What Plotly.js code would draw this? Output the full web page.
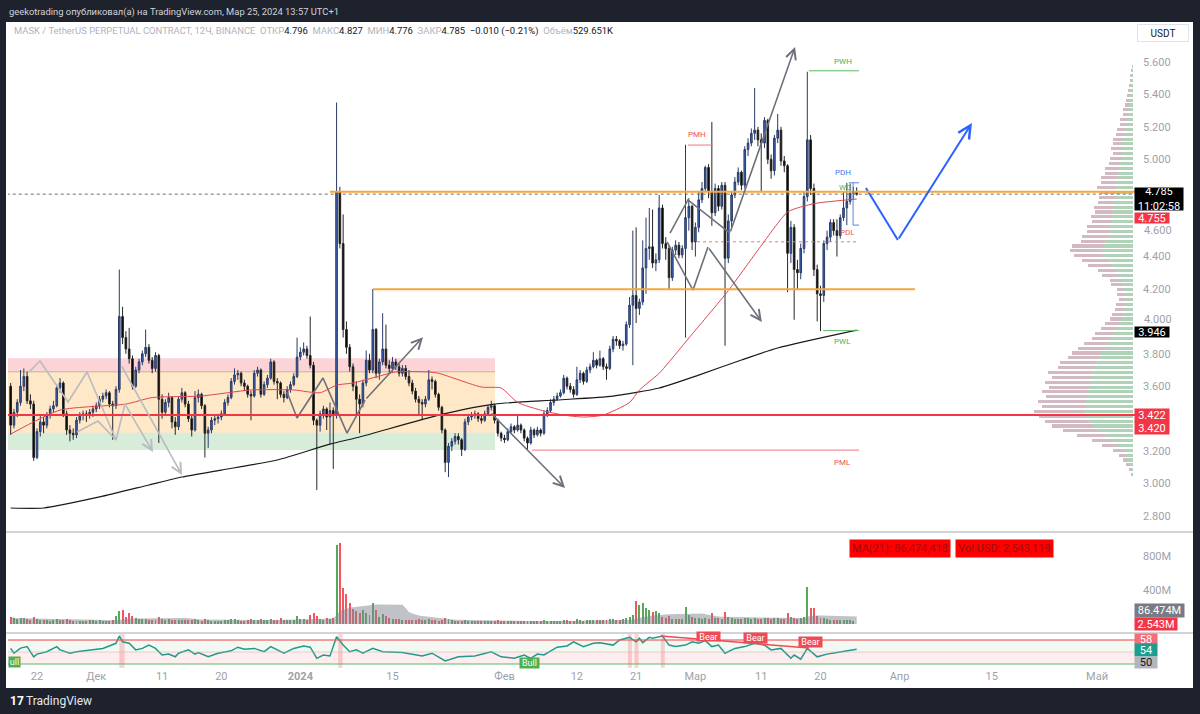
<!DOCTYPE html>
<html><head><meta charset="utf-8">
<script src="https://cdn.plot.ly/plotly-3.0.1.min.js"></script>
<style>html,body{margin:0;padding:0;background:#1e222d;}#chart{width:1200px;height:714px;}</style>
</head><body><div id="chart"></div>
<script>
// ---------- DATA (12h candles, MASK/USDT perp, from 2023-11-18 00:00) ----------
const firstOpen = 3.60;
const closes = [
3.36,3.44,3.50,3.60,3.66,3.51,3.49,3.16,3.32,3.38,
3.36,3.42,3.46,3.48,3.59,3.62,3.43,3.33,3.31,3.30,
3.39,3.42,3.43,3.42,3.44,3.46,3.48,3.52,3.54,3.56,
3.49,3.48,3.58,4.03,3.90,3.83,3.77,3.60,3.70,3.75,
3.80,3.84,3.76,3.71,3.79,3.52,3.44,3.50,3.53,3.38,
3.35,3.52,3.56,3.49,3.40,3.33,3.53,3.55,3.48,3.31,
3.33,3.39,3.40,3.41,3.43,3.50,3.53,3.63,3.67,3.68,
3.62,3.60,3.55,3.54,3.68,3.70,3.55,3.61,3.65,3.75,
3.63,3.62,3.55,3.53,3.58,3.61,3.66,3.78,3.81,3.83,
3.79,3.73,3.39,3.36,3.43,3.46,3.41,3.45,3.42,4.80,
4.48,3.95,3.84,3.72,3.60,3.52,3.49,3.62,3.76,3.70,
3.95,3.68,3.75,3.83,3.73,3.71,3.75,3.72,3.68,3.71,
3.66,3.62,3.57,3.52,3.50,3.49,3.52,3.64,3.63,3.55,
3.47,3.33,3.13,3.23,3.26,3.29,3.27,3.21,3.38,3.41,
3.42,3.43,3.40,3.39,3.43,3.47,3.48,3.39,3.31,3.28,
3.27,3.32,3.35,3.33,3.36,3.33,3.28,3.25,3.33,3.30,
3.33,3.31,3.43,3.45,3.50,3.52,3.54,3.56,3.65,3.60,
3.58,3.55,3.64,3.68,3.63,3.70,3.72,3.76,3.73,3.77,
3.72,3.71,3.83,3.89,3.88,3.85,3.86,3.98,4.10,4.16,
4.08,4.12,4.33,4.45,4.46,4.36,4.38,4.70,4.48,4.45,
4.27,4.44,4.47,4.41,4.45,4.64,4.71,4.49,4.58,4.75,
4.82,4.95,4.80,4.67,4.82,4.71,4.84,4.39,4.62,4.78,
4.86,4.92,4.84,5.06,5.10,5.16,5.18,5.12,5.10,5.24,
5.00,4.93,5.13,5.18,4.99,4.96,4.42,4.58,4.32,4.30,
4.45,4.77,5.12,4.82,4.32,4.17,4.16,4.48,4.52,4.61,
4.56,4.53,4.64,4.70,4.74,4.79,4.796,4.785];
const highs = [
3.62,3.46,3.52,3.70,3.71,3.69,3.55,3.51,3.34,3.42,
3.41,3.44,3.48,3.51,3.61,3.65,3.63,3.45,3.36,3.34,
3.41,3.44,3.45,3.45,3.46,3.48,3.50,3.54,3.56,3.58,
3.57,3.51,3.60,4.32,4.09,3.94,3.96,3.79,3.72,3.77,
3.82,3.95,3.86,3.78,3.81,3.80,3.55,3.52,3.56,3.54,
3.41,3.54,3.59,3.57,3.51,3.42,3.57,3.58,3.56,3.49,
3.35,3.41,3.42,3.43,3.45,3.52,3.55,3.65,3.71,3.70,
3.69,3.64,3.61,3.57,3.70,3.72,3.71,3.63,3.67,3.77,
3.76,3.65,3.63,3.57,3.60,3.63,3.68,3.90,3.84,3.87,
3.85,4.03,3.75,3.40,3.45,3.48,3.47,3.50,3.47,5.35,
4.83,4.66,4.00,3.86,3.74,3.63,3.55,3.64,3.82,3.80,
4.20,3.96,3.77,4.05,3.98,3.76,3.78,3.77,3.74,3.73,
3.73,3.70,3.64,3.59,3.54,3.52,3.54,3.70,3.66,3.64,
3.56,3.48,3.34,3.25,3.28,3.31,3.31,3.28,3.40,3.43,
3.44,3.45,3.44,3.42,3.45,3.48,3.51,3.49,3.40,3.32,
3.30,3.34,3.37,3.36,3.42,3.37,3.34,3.29,3.35,3.34,
3.35,3.34,3.45,3.47,3.52,3.54,3.56,3.58,3.67,3.66,
3.62,3.60,3.72,3.70,3.69,3.72,3.74,3.81,3.77,3.82,
3.78,3.74,3.85,3.91,3.91,3.89,3.88,4.00,4.15,4.56,
4.58,4.14,4.50,4.64,4.70,4.69,4.42,4.78,4.72,4.52,
4.47,4.46,4.50,4.49,4.47,5.09,4.76,4.72,4.61,4.80,
4.86,4.96,4.97,5.23,4.85,4.84,4.86,4.86,4.66,4.80,
4.89,4.95,4.93,5.08,5.13,5.19,5.44,5.20,5.16,5.26,
5.25,5.03,5.15,5.28,5.20,5.02,4.97,4.62,4.60,4.38,
4.48,4.80,5.54,5.15,4.85,4.35,4.22,4.50,4.56,4.63,
4.63,4.63,4.66,4.80,4.855,4.85,4.83,4.827];
const lows = [
3.30,3.34,3.41,3.48,3.57,3.49,3.46,3.14,3.15,3.29,
3.31,3.34,3.40,3.44,3.47,3.56,3.41,3.30,3.26,3.27,
3.28,3.37,3.39,3.38,3.40,3.41,3.44,3.46,3.50,3.52,
3.47,3.27,3.46,3.56,3.86,3.80,3.74,3.58,3.59,3.68,
3.73,3.78,3.74,3.68,3.69,3.25,3.40,3.42,3.47,3.34,
3.30,3.33,3.50,3.47,3.38,3.29,3.32,3.50,3.46,3.16,
3.22,3.31,3.36,3.37,3.39,3.42,3.48,3.52,3.61,3.64,
3.60,3.57,3.53,3.39,3.53,3.66,3.53,3.54,3.59,3.64,
3.61,3.52,3.53,3.50,3.52,3.56,3.60,3.65,3.76,3.79,
3.77,3.71,3.36,2.96,3.32,3.40,3.33,3.24,3.09,3.40,
4.45,3.90,3.80,3.69,3.57,3.42,3.31,3.47,3.60,3.68,
3.68,3.65,3.64,3.73,3.71,3.68,3.69,3.70,3.66,3.66,
3.64,3.60,3.55,3.50,3.42,3.39,3.47,3.51,3.58,3.53,
3.45,3.31,3.07,3.04,3.20,3.24,3.24,3.17,3.20,3.36,
3.39,3.40,3.38,3.37,3.38,3.42,3.45,3.37,3.29,3.26,
3.25,3.26,3.31,3.31,3.32,3.31,3.26,3.21,3.24,3.28,
3.29,3.29,3.30,3.41,3.44,3.48,3.51,3.53,3.55,3.58,
3.56,3.53,3.54,3.62,3.61,3.62,3.68,3.71,3.71,3.72,
3.70,3.64,3.70,3.81,3.85,3.83,3.82,3.85,3.96,3.73,
3.99,4.04,4.10,4.17,4.38,4.33,4.31,4.36,4.45,4.38,
4.20,4.25,4.41,4.39,4.39,3.90,4.56,4.44,4.40,4.55,
4.73,4.80,4.76,4.59,4.65,4.68,4.69,3.85,4.36,4.58,
4.76,4.84,4.81,4.82,5.02,5.08,5.12,5.08,4.80,5.07,
4.97,4.88,4.90,5.10,4.96,4.92,4.18,4.36,4.01,4.20,
4.26,4.42,4.74,4.78,4.28,4.00,3.94,4.12,4.44,4.49,
4.53,4.40,4.51,4.62,4.594,4.72,4.75,4.776];
// volume in USD millions
const volumeM = [
78,65,60,72,68,55,50,88,62,48, 42,45,40,52,58,50,46,55,44,38,
40,36,34,38,42,45,40,44,38,35, 40,48,92,158,168,85,125,95,70,58,
55,60,50,48,52,82,60,48,55,50, 45,52,48,44,46,50,55,42,40,58,
45,40,38,35,36,42,44,58,62,45, 40,38,42,55,50,44,60,48,45,62,
52,48,65,45,42,46,50,95,62,55, 48,108,135,92,60,52,70,62,75,929,
956,420,355,245,175,150,135,165,128,110, 245,165,85,118,90,70,62,58,55,50,
52,48,45,50,55,48,42,58,50,45, 40,52,65,55,42,38,36,40,48,40,
35,32,30,34,36,33,38,40,42,35, 34,30,32,30,36,33,35,40,38,32,
30,34,48,38,36,34,32,35,50,42, 38,36,55,45,40,48,44,52,42,48,
45,50,62,58,46,44,60,75,80,106, 274,224,251,185,165,145,153,133,82,70,
90,62,58,55,60,196,106,80,65,70, 62,75,60,126,70,65,60,145,80,65,
58,62,55,65,70,60,75,62,58,68, 72,60,66,70,58,62,126,80,75,62,
70,85,432,185,185,94,70,66,55,52, 48,50,46,52,48,44,40,2.543];
// moving averages (candle index -> price)
const redMaIdx = [0,15,35,43,58,73,86,94,99,104,111,117,127,130,143,149,154,161,168,174,180,188,191,197,203,206,218,227,236,240,245,257];
const redMaVal = [3.305,3.453,3.49,3.53,3.54,3.577,3.577,3.56,3.607,3.62,3.657,3.688,3.688,3.68,3.595,3.589,3.50,3.453,3.422,3.41,3.422,3.50,3.577,3.68,3.823,3.897,4.19,4.44,4.675,4.706,4.73,4.755];
const blackMaIdx = [0,10,27,42,52,64,81,97,106,130,147,166,183,197,209,222,233,257];
const blackMaVal = [2.849,2.849,2.917,2.991,3.04,3.083,3.145,3.243,3.287,3.422,3.49,3.515,3.539,3.589,3.669,3.762,3.836,3.946];
// oscillator pane
const rsiIdx = [0,1,3,5,7,8,11,14,15,18,20,25,28,32,33,34,36,38,40,42,44,46,48,50,51,54,56,57,60,63,67,69,71,74,77,79,83,86,89,91,93,95,97,99,101,103,105,107,110,113,119,125,128,132,136,141,146,149,153,156,158,160,162,166,169,171,174,177,179,183,185,188,190,191,192,194,195,198,200,202,205,207,209,211,213,215,217,220,223,226,229,231,234,237,238,240,242,245,248,251,255,257];
const rsiVal = [55.2,53.6,55.3,55.8,52.4,53.3,54.1,55.8,54.7,53.6,54.1,54.7,55.2,56.9,59.3,57.4,56.9,54.7,55.2,56.3,55.2,53.0,53.3,52.4,53.6,54.7,53.3,53.8,52.4,53.6,54.4,55.6,54.9,55.2,54.1,55.8,53.6,55.2,56.0,55.6,51.9,53.0,52.7,59.1,56.3,54.1,54.7,53.6,55.2,54.1,53.8,52.7,53.6,51.0,52.4,52.7,54.1,52.4,51.9,53.0,51.9,53.3,53.0,55.6,56.0,57.4,55.8,56.9,57.1,56.3,58.0,58.9,57.4,58.6,57.1,58.9,58.6,59.3,56.3,55.8,56.3,57.4,56.9,57.8,55.8,56.3,53.6,55.2,55.8,56.9,56.3,54.7,55.2,51.9,53.0,51.6,55.2,52.4,53.3,53.8,54.7,54.9];
// visible-range volume profile (rows of 0.03 from 3.055)
const vpStart = 3.055, vpStep = 0.03;
const vpTotal = [2,4,7,10,14,20,31,41,56,70,81,88,94,99,91,95,87,91,84,88,81,85,75,73,65,61,55,49,41,38,32,28,23,21,18,17,14,16,16,22,23,31,35,45,51,59,63,61,52,51,46,46,41,42,38,39,35,34,33,36,32,32,28,28,24,23,20,22,20,20,17,16,13,13,10,10,8,7,6,5,4,3,3,2,1];
const vpUp =    [1,2,3,5,7,10,15,21,27,35,40,44,48,50,46,47,45,46,43,44,41,42,38,37,34,31,28,25,22,19,17,14,12,10,10,8,8,8,9,11,12,15,18,22,26,29,32,30,27,25,24,23,21,21,20,19,18,17,17,18,17,16,15,14,13,11,11,11,11,10,9,8,7,6,5,5,4,4,3,3,2,2,2,1,1];
// hand drawings (candle index, price)
const lgA = {i:[5.57,8.91,17.42,23.19,32.0,34.73], p:[3.688,3.756,3.503,3.688,3.268,3.490], to:[43.24,3.194]};
const lgB = {i:[20.15,26.53,32.0], p:[3.318,3.385,3.268]};
const lgC = {i:[33.52], p:[3.731], to:[52.05,3.052]};
const dkJan = {i:[83.94,86.98,94.88,102.17,107.64], p:[3.564,3.404,3.651,3.311,3.515], to:[125.26,3.903]};
const dkFeb = {i:[145.6], p:[3.441], to:[168.39,2.972]};
const dkMar1 = {i:[200.3,205.74,218.5], p:[4.545,4.749,4.545], to:[238.27,5.693]};
const dkMar2 = {i:[199.4,207.26,211.82], p:[4.490,4.193,4.459], to:[228.2,3.996]};
const bluePath = {i:[259.8,269.5], p:[4.823,4.502], to:[292.0,5.224]};
// axis ticks (3.400 and 4.800 sit under price labels; 4.000 / 4.600 are placed beside their labels)
const tickDates = ['2023-11-22','2023-12-01','2023-12-11','2023-12-20','2024-01-01','2024-01-15','2024-02-01','2024-02-12','2024-02-21','2024-03-01','2024-03-11','2024-03-20','2024-04-01','2024-04-15','2024-05-01'];
const tickLabels = ['22','Дек','11','20','<b>2024</b>','15','Фев','12','21','Мар','11','20','Апр','15','Май'];
const priceTicks = [2.8,3.0,3.2,3.6,3.8,4.2,4.4,5.0,5.2,5.4,5.6];
const crowdedTicks = [4.0,4.6];

// ---------- helpers ----------
const startUTC = Date.UTC(2023,10,18,0,0,0), H12 = 12*3600*1000;
function T(idx){ return new Date(startUTC + idx*H12).toISOString().slice(0,19).replace('T',' '); }
const W=1200, HH=714, ML=8, MR=65, MT=22, MB=46, PW=W-ML-MR, PH=HH-MT-MB;
const px = x => (x-ML)/PW, py = y => (HH-MB-y)/PH;

const dates = closes.map((_,i)=>T(i));
const opens = closes.map((c,i)=> i===0 ? firstOpen : closes[i-1]);
const hi = highs.map((h,i)=>Math.max(h,opens[i],closes[i]));
const lo = lows.map((l,i)=>Math.min(l,opens[i],closes[i]));
const vol = volumeM.map(v=>v*1e6);
const volColors = closes.map((c,i)=> c>=opens[i] ? 'rgba(67,160,71,0.9)' : 'rgba(239,68,80,0.9)');
const volMa = vol.map((_,i)=>{const s=Math.max(0,i-20); let t=0; for(let k=s;k<=i;k++) t+=vol[k]; return t/(i-s+1);});
const vpY = vpTotal.map((_,k)=>vpStart+k*vpStep);
const vpDown = vpTotal.map((t,k)=>Math.max(0,t-vpUp[k]));

const LG='#b9bbc1', DG='#6e717b', BL='#2962ff';
const traces = [];
traces.push({type:'bar',orientation:'h',x:vpUp,y:vpY,width:0.019,xaxis:'x2',yaxis:'y',marker:{color:'rgba(150,195,160,0.75)'},hoverinfo:'skip'});
traces.push({type:'bar',orientation:'h',x:vpDown,y:vpY,width:0.019,xaxis:'x2',yaxis:'y',marker:{color:'rgba(196,162,172,0.75)'},hoverinfo:'skip'});
traces.push({type:'candlestick',x:dates,open:opens,high:hi,low:lo,close:closes,xaxis:'x',yaxis:'y',
  increasing:{line:{color:'#2a3b66',width:1},fillcolor:'#3b62b8'},
  decreasing:{line:{color:'#262626',width:1},fillcolor:'#000000'},
  whiskerwidth:0,hoverinfo:'skip'});
traces.push({type:'scatter',mode:'lines',x:blackMaIdx.map(T),y:blackMaVal,line:{color:'#1a1a1a',width:1.2,shape:'spline',smoothing:0.6},hoverinfo:'skip'});
traces.push({type:'scatter',mode:'lines',x:redMaIdx.map(T),y:redMaVal,line:{color:'#e0454f',width:1,shape:'spline',smoothing:0.6},hoverinfo:'skip'});
function path(d,color,w){ traces.push({type:'scatter',mode:'lines',x:d.i.map(T),y:d.p,line:{color:color,width:w},hoverinfo:'skip'}); }
path(lgA,LG,1.6); path(lgB,LG,1.6); path(dkJan,DG,1.6); path(dkMar1,DG,1.6); path(dkMar2,DG,1.6); path(bluePath,BL,2);
traces.push({type:'scatter',mode:'lines',x:dates,y:volMa,fill:'tozeroy',line:{width:0,color:'rgba(0,0,0,0)'},fillcolor:'rgba(130,133,143,0.5)',xaxis:'x',yaxis:'y2',hoverinfo:'skip'});
traces.push({type:'bar',x:dates,y:vol,width:H12*0.6,marker:{color:volColors},xaxis:'x',yaxis:'y2',hoverinfo:'skip'});
traces.push({type:'scatter',mode:'lines',x:rsiIdx.map(T),y:rsiVal,line:{color:'#22998c',width:1.5},xaxis:'x',yaxis:'y3',hoverinfo:'skip'});

// ---------- shapes ----------
const shapes = [];
shapes.push({type:'rect',xref:'paper',yref:'paper',x0:px(6),x1:px(1193),y0:py(688),y1:py(22),fillcolor:'#ffffff',line:{width:0},layer:'below'});
function hl(i0,i1,p,color,w,dash,layer){ shapes.push({type:'line',xref:'x',yref:'y',x0:T(i0),x1:T(i1),y0:p,y1:p,line:{color:color,width:w,dash:dash||'solid'},layer:layer||'above'}); }
function vl(i,p0,p1,color,w){ shapes.push({type:'line',xref:'x',yref:'y',x0:T(i),x1:T(i),y0:p0,y1:p1,line:{color:color,width:w},layer:'above'}); }
function zone(p0,p1,fill){ shapes.push({type:'rect',xref:'x',yref:'y',x0:T(-3),x1:T(147.13),y0:p0,y1:p1,fillcolor:fill,line:{width:0},layer:'below'}); }
zone(3.689,3.772,'rgba(242,54,69,0.22)');
zone(3.313,3.689,'rgba(255,152,0,0.22)');
zone(3.206,3.313,'rgba(76,175,80,0.22)');
hl(-3,147.13,3.689,'rgba(130,160,110,0.55)',1,'solid','below');
hl(-3,345,4.785,'#6a6d78',1,'dot');
hl(97.0,345,4.800,'#f5a73b',2);
hl(110.07,274.7,4.198,'#f5a73b',2);
hl(-3,345,3.422,'#f23645',2);
hl(158.36,257.7,3.206,'#ef7480',1);
hl(205.74,213.3,5.088,'#ef7480',1);
hl(208.5,257.5,4.491,'#ef7480',1,'dot');
hl(242.5,257.7,5.546,'#5fb864',1);
hl(246.8,257.7,3.943,'#5fb864',1);
hl(254.67,257.7,4.855,'#5b80e0',1);
vl(255.9,4.855,4.594,'#5b80e0',1);
hl(255.9,257.7,4.594,'#5b80e0',1);
[532,633].forEach(y=>shapes.push({type:'line',xref:'paper',yref:'paper',x0:px(6),x1:px(1193),y0:py(y),y1:py(y),line:{color:'#c3c6cd',width:1.5},layer:'above'}));
shapes.push({type:'rect',xref:'paper',yref:'y3',x0:0,x1:1,y0:54,y1:58,fillcolor:'rgba(120,190,110,0.09)',line:{width:0},layer:'below'});
shapes.push({type:'rect',xref:'paper',yref:'y3',x0:0,x1:1,y0:50,y1:54,fillcolor:'rgba(242,54,69,0.09)',line:{width:0},layer:'below'});
[[33,34.6],[99.5,100.8],[187.5,188.7],[189.5,190.7],[197.5,198.7]].forEach(s=>shapes.push({type:'rect',xref:'x',yref:'y3',x0:T(s[0]),x1:T(s[1]),y0:48.6,y1:60,fillcolor:'rgba(242,54,69,0.22)',line:{width:0},layer:'below'}));
shapes.push({type:'line',xref:'paper',yref:'y3',x0:0,x1:1,y0:58,y1:58,line:{color:'rgba(239,83,90,0.75)',width:1.5}});
shapes.push({type:'line',xref:'paper',yref:'y3',x0:0,x1:1,y0:54,y1:54,line:{color:'rgba(200,180,170,0.5)',width:1}});
shapes.push({type:'line',xref:'paper',yref:'y3',x0:0,x1:1,y0:50,y1:50,line:{color:'#5cb860',width:1}});
shapes.push({type:'line',xref:'x',yref:'y3',x0:T(197.5),x1:T(242.5),y0:59.33,y1:55.33,line:{color:'#f04a55',width:1.5}});

// ---------- annotations ----------
const ann = [];
const FONT = 'Roboto, "Liberation Sans", Arial, sans-serif';
const NB = '\u00a0\u00a0';
function txt(text,x,y,size,color,xanchor){ ann.push({text:text,xref:'paper',yref:'paper',x:px(x),y:py(y),xanchor:xanchor||'left',yanchor:'middle',showarrow:false,font:{family:FONT,size:size,color:color}}); }
function box(text,x,y,w,h,bg,fg,size){ ann.push({text:text,xref:'paper',yref:'paper',x:px(x),y:py(y),xanchor:'left',yanchor:'middle',width:w,height:h,align:'center',valign:'middle',showarrow:false,bgcolor:bg,borderpad:0,font:{family:FONT,size:size||11,color:fg}}); }
function arrow(fromI,fromP,d,color,w){ ann.push({x:T(d.to[0]),y:d.to[1],ax:T(fromI),ay:fromP,xref:'x',yref:'y',axref:'x',ayref:'y',text:'',showarrow:true,arrowhead:5,arrowsize:1.25,arrowwidth:w,arrowcolor:color,standoff:0,startstandoff:0}); }
function lbl(text,i,p,color){ ann.push({text:text,xref:'x',yref:'y',x:T(i),y:p,showarrow:false,xanchor:'center',yanchor:'middle',font:{family:FONT,size:8,color:color}}); }

txt('geekotrading опубликовал(а) на TradingView.com, Мар 25, 2024 13:57 UTC+1',7,12,9.4,'#d1d4dc');
const G='#b0b3bb', K='#131722';
txt(`<span style="color:${G}">MASK / TetherUS PERPETUAL CONTRACT, 12Ч, BINANCE${NB}ОТКР</span><span style="color:${K}">4.796</span><span style="color:${G}">${NB}МАКС</span><span style="color:${K}">4.827</span><span style="color:${G}">${NB}МИН</span><span style="color:${K}">4.776</span><span style="color:${G}">${NB}ЗАКР</span><span style="color:${K}">4.785${NB}−0.010 (−0.21%)</span><span style="color:${G}">${NB}Объём</span><span style="color:${K}">529.651K</span>`,12,31.5,9.45,K);
txt('<b>17</b>',8,701,12,'#ffffff');
txt('TradingView',24,701,12,'#e6e8ee');
ann.push({text:'USDT',xref:'paper',yref:'paper',x:px(1137),y:py(33),xanchor:'left',yanchor:'middle',width:50,height:16,showarrow:false,bgcolor:'#ffffff',bordercolor:'#e0e3eb',borderwidth:1,borderpad:0,font:{family:FONT,size:10,color:K}});
// price-scale values that are partly covered in the original
crowdedTicks.forEach(v=>{ const yy = 62+(5.6-v)*162.1; ann.push({text:v.toFixed(3),xref:'paper',yref:'paper',x:px(1142),y:py(v===4.0?yy-2:yy+6.5),xanchor:'left',yanchor:'middle',showarrow:false,font:{family:FONT,size:11,color:'#9ea1aa'}}); });
box('4.785<br>11:02:58',1134,199.5,48,22,'#000000','#ffffff',11);
box('4.755',1134,217.5,34,10,'#f23645','#ffffff',11);
box('3.946',1134,331.5,34,10,'#000000','#ffffff',11);
box('3.422',1134,415.5,34,13,'#f23645','#ffffff',11);
box('3.420',1134,428,34,12,'#f23645','#ffffff',11);
box('86.474M',1134,610.5,49,13,'#787b86','#ffffff',11);
box('2.543M',1134,624,42,12,'#f23645','#ffffff',11);
box('58',1134,638.5,22,10,'#f26d78','#ffffff',11);
box('54',1134,650,22,12,'#1f9d8c','#ffffff',11);
box('50',1134,662,22,11,'#b2b5be','#131722',11);
box('MA(21): 86,474,418',849,548.5,100,17,'#ff0000','#9e0d0d',11);
box('Vol USD: 2,543,119',955,548.5,97,17,'#ff0000','#9e0d0d',11);
box('ull',8,662,11,10,'#4caf50','#ffffff',9);
box('Bull',519,662.5,19,10,'#4caf50','#ffffff',9);
box('Bear',696,636,23,9,'#f04a55','#ffffff',9);
box('Bear',742.5,638,23,10,'#f04a55','#ffffff',9);
box('Bear',798,642,23,10,'#f04a55','#ffffff',9);
lbl('PWH',252.8,5.606,'#4caf50'); lbl('PWL',252.8,3.879,'#4caf50'); lbl('PML',252.8,3.132,'#ef5350');
lbl('PDH',252.8,4.921,'#4b78e6'); lbl('WO',253.6,4.823,'#4caf50'); lbl('PMH',208.5,5.156,'#ef5350'); lbl('PDL',254.2,4.551,'#ef5350');
arrow(lgA.i[lgA.i.length-1],lgA.p[lgA.p.length-1],lgA,LG,1.6);
arrow(lgC.i[0],lgC.p[0],lgC,LG,1.6);
arrow(dkJan.i[dkJan.i.length-1],dkJan.p[dkJan.p.length-1],dkJan,DG,1.6);
arrow(dkFeb.i[0],dkFeb.p[0],dkFeb,DG,1.6);
arrow(dkMar1.i[dkMar1.i.length-1],dkMar1.p[dkMar1.p.length-1],dkMar1,DG,1.6);
arrow(dkMar2.i[dkMar2.i.length-1],dkMar2.p[dkMar2.p.length-1],dkMar2,DG,1.6);
arrow(bluePath.i[bluePath.i.length-1],bluePath.p[bluePath.p.length-1],bluePath,BL,2);

const tickFont = {family:FONT,size:11,color:'#9ea1aa'};
const layout = {
  width:W,height:HH,margin:{l:ML,r:MR,t:MT,b:MB,pad:0},
  paper_bgcolor:'#1e222d',plot_bgcolor:'rgba(0,0,0,0)',showlegend:false,barmode:'stack',
  font:{family:FONT,size:11,color:'#9ea1aa'},
  xaxis:{type:'date',range:[T(-0.808),T(341.54)],domain:[0,1],anchor:'y3',showgrid:false,zeroline:false,showline:false,ticks:'',
         tickmode:'array',tickvals:tickDates,ticktext:tickLabels,tickfont:tickFont,rangeslider:{visible:false},fixedrange:true},
  xaxis2:{domain:[px(985),px(1133)],range:[148,0],anchor:'y',visible:false,fixedrange:true},
  yaxis:{domain:[py(531),py(22)],range:[2.707,5.847],side:'right',anchor:'x',showgrid:false,zeroline:false,showline:false,ticks:'',
         tickmode:'array',tickvals:priceTicks,ticktext:priceTicks.map(v=>v.toFixed(3)),ticklabelstandoff:7,tickfont:tickFont,fixedrange:true},
  yaxis2:{domain:[py(632),py(533)],range:[-94e6,1070e6],side:'right',anchor:'x',showgrid:false,zeroline:false,showline:false,ticks:'',
         tickmode:'array',tickvals:[400e6,800e6],ticktext:['400M','800M'],ticklabelstandoff:7,tickfont:tickFont,fixedrange:true},
  yaxis3:{domain:[0,py(634)],range:[48.67,60],side:'right',anchor:'x',showgrid:false,zeroline:false,showline:false,showticklabels:false,ticks:'',fixedrange:true},
  shapes:shapes,annotations:ann
};
Plotly.newPlot('chart',traces,layout,{staticPlot:true,displayModeBar:false});
</script></body></html>
